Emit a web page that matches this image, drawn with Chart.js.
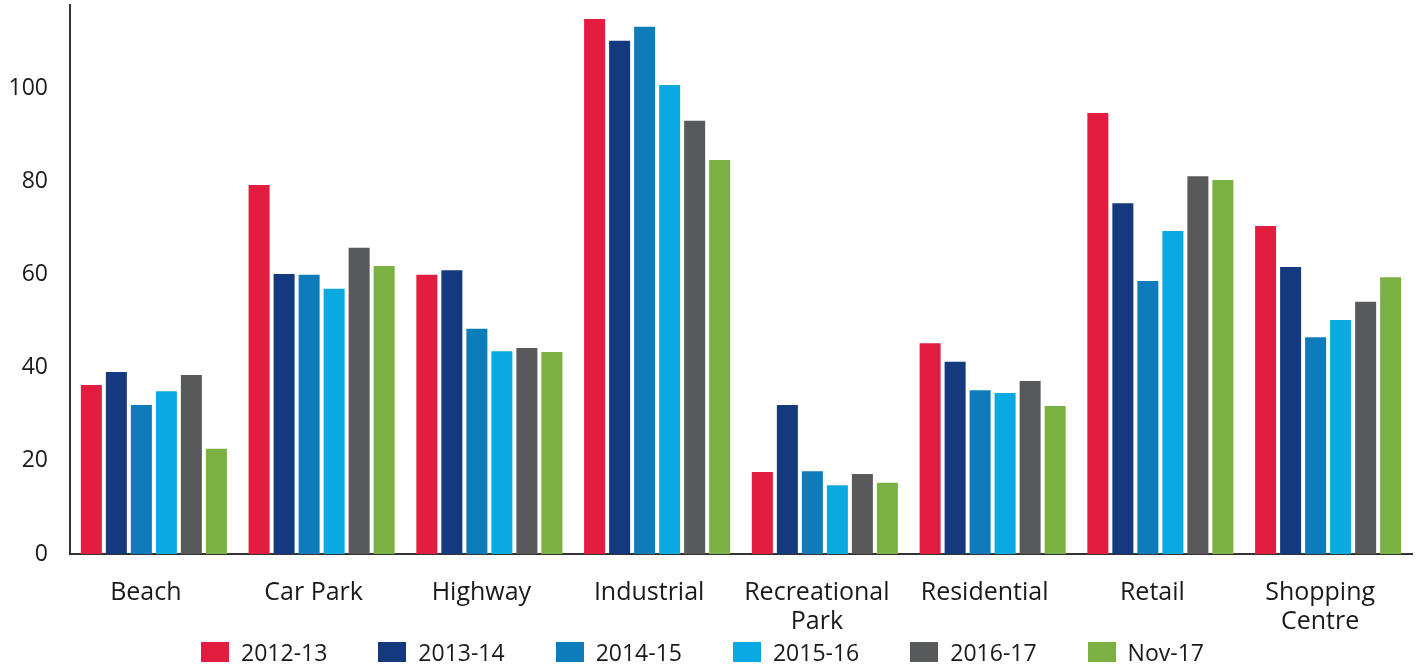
<!DOCTYPE html>
<html>
<head>
<meta charset="utf-8">
<script src="https://cdn.jsdelivr.net/npm/chart.js@4/dist/chart.umd.min.js"></script>
<style>
  html, body { margin: 0; padding: 0; background: #ffffff; }
  #wrap { position: relative; width: 1419px; height: 665px; }
  #legend {
    position: absolute; left: 0; top: 640px; width: 1405px; height: 24px;
    display: flex; justify-content: center; align-items: center; gap: 51px;
    font-family: 'Open Sans', sans-serif; font-size: 23px; color: #1a1a1a;
  }
  #legend .item { display: flex; align-items: center; white-space: nowrap; }
  #legend .box { display: inline-block; width: 28px; height: 20px; margin-right: 12px; }
</style>
</head>
<body>
<div id="wrap"><canvas id="c"></canvas><div id="legend"></div></div>
<script>
const categories = ["Beach", "Car Park", "Highway", "Industrial", ["Recreational", "Park"], "Residential", "Retail", ["Shopping", "Centre"]];
const seriesNames = ["2012-13", "2013-14", "2014-15", "2015-16", "2016-17", "Nov-17"];
const s2012_13 = [36.3, 79.3, 60.0, 115.0, 17.6, 45.3, 94.8, 70.5];
const s2013_14 = [39.1, 60.2, 61.0, 110.3, 32.0, 41.3, 75.4, 61.7];
const s2014_15 = [32.0, 60.0, 48.4, 113.3, 17.8, 35.2, 58.7, 46.6];
const s2015_16 = [35.0, 57.0, 43.6, 100.8, 14.8, 34.6, 69.4, 50.3];
const s2016_17 = [38.5, 65.8, 44.3, 93.1, 17.2, 37.2, 81.2, 54.2];
const sNov_17  = [22.6, 61.9, 43.4, 84.7, 15.3, 31.8, 80.4, 59.5];
const yTicks = [0, 20, 40, 60, 80, 100];

const seriesValues = [s2012_13, s2013_14, s2014_15, s2015_16, s2016_17, sNov_17];
const colors = ["#E31D40", "#15397F", "#0E7CBB", "#0BA9E1", "#58595B", "#7AB142"];
const FONT = "'Open Sans', sans-serif";
const TEXT = "#1a1a1a";

const htmlLegend = {
  id: "htmlLegend",
  afterUpdate(chart) {
    const el = document.getElementById("legend");
    el.innerHTML = "";
    chart.data.datasets.forEach((ds) => {
      const item = document.createElement("span");
      item.className = "item";
      const box = document.createElement("span");
      box.className = "box";
      box.style.background = ds.backgroundColor;
      const txt = document.createElement("span");
      txt.textContent = ds.label;
      item.appendChild(box);
      item.appendChild(txt);
      el.appendChild(item);
    });
  }
};

new Chart(document.getElementById("c"), {
  type: "bar",
  data: {
    labels: categories,
    datasets: seriesNames.map((name, i) => ({
      label: name,
      data: seriesValues[i],
      backgroundColor: colors[i],
      borderWidth: 0,
      categoryPercentage: 0.8945,
      barPercentage: 0.84
    }))
  },
  plugins: [htmlLegend],
  options: {
    responsive: true,
    maintainAspectRatio: false,
    animation: false,
    layout: { padding: { top: 5, right: 7, bottom: 31, left: 0 } },
    plugins: {
      tooltip: { enabled: false },
      legend: { display: false }
    },
    scales: {
      x: {
        grid: { display: false, drawTicks: false },
        border: { display: true, color: "#333333", width: 2 },
        ticks: {
          color: TEXT,
          font: { family: FONT, size: 25, lineHeight: 1.16 },
          padding: 24,
          labelOffset: -8,
          maxRotation: 0,
          autoSkip: false
        },
        afterFit: (scale) => { scale.height = 80; }
      },
      y: {
        min: 0,
        max: 118,
        grid: { display: false, drawTicks: false },
        border: { display: true, color: "#333333", width: 2 },
        afterBuildTicks: (scale) => { scale.ticks = yTicks.map(v => ({ value: v })); },
        ticks: {
          color: TEXT,
          font: { family: FONT, size: 23 },
          padding: 22
        },
        afterFit: (scale) => { scale.width = 70; scale.paddingTop = 0; scale.paddingBottom = 0; }
      }
    }
  }
});
</script>
</body>
</html>
